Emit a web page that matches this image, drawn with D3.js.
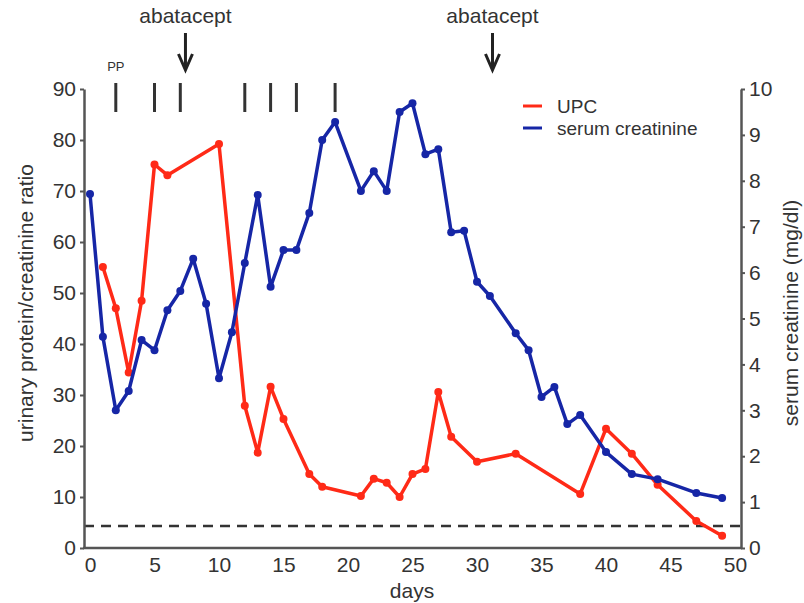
<!DOCTYPE html>
<html>
<head>
<meta charset="utf-8">
<script src="https://cdn.jsdelivr.net/npm/d3@7"></script>
<style>
  body { margin: 0; background: #fff; }
  text { font-family: "Liberation Sans", Arial, sans-serif; fill: #333; }
</style>
</head>
<body>
<div id="chart"></div>
<script>
// UPC (left axis)
var upcDays = [1, 2, 3, 4, 5, 6, 10, 12, 13, 14, 15, 17, 18, 21, 22, 23, 24, 25, 26, 27, 28, 30, 33, 38, 40, 42, 44, 47, 49];
var upcValues = [55.1, 47.0, 34.4, 48.5, 75.2, 73.1, 79.2, 27.9, 18.7, 31.6, 25.3, 14.5, 12.0, 10.2, 13.6, 12.8, 10.0, 14.5, 15.5, 30.6, 21.8, 16.9, 18.5, 10.6, 23.4, 18.5, 12.4, 5.3, 2.4];

// serum creatinine (right axis, mg/dl)
var crDays = [0, 1, 2, 3, 4, 5, 6, 7, 8, 9, 10, 11, 12, 13, 14, 15, 16, 17, 18, 19, 21, 22, 23, 24, 25, 26, 27, 28, 29, 30, 31, 33, 34, 35, 36, 37, 38, 40, 42, 44, 47, 49];
var crValues = [7.71, 4.6, 3.0, 3.42, 4.53, 4.31, 5.18, 5.6, 6.3, 5.32, 3.7, 4.7, 6.21, 7.69, 5.69, 6.49, 6.49, 7.3, 8.89, 9.28, 7.78, 8.21, 7.78, 9.5, 9.69, 8.58, 8.69, 6.88, 6.91, 5.8, 5.49, 4.68, 4.31, 3.29, 3.51, 2.7, 2.9, 2.09, 1.61, 1.5, 1.2, 1.09];

var ppDays = [2, 5, 7, 12, 14, 16, 19];
var abataceptDays = [7.4, 31.2];
var thresholdUPC = 4.3;

var xTicks = [0, 5, 10, 15, 20, 25, 30, 35, 40, 45, 50];
var leftTicks = [0, 10, 20, 30, 40, 50, 60, 70, 80, 90];
var rightTicks = [0, 1, 2, 3, 4, 5, 6, 7, 8, 9, 10];

var width = 804, height = 603;
var red = "#ff2a17", blue = "#1626a6";

var svg = d3.select("#chart").append("svg")
    .attr("width", width)
    .attr("height", height);

var x = d3.scaleLinear().domain([0, 50]).range([90, 735]);
var yL = d3.scaleLinear().domain([0, 90]).range([548, 89]);
var yR = d3.scaleLinear().domain([0, 10]).range([548, 89]);

// dashed threshold line
svg.append("line")
    .attr("x1", 84).attr("x2", 741)
    .attr("y1", yL(thresholdUPC)).attr("y2", yL(thresholdUPC))
    .attr("stroke", "#333")
    .attr("stroke-width", 2.5)
    .attr("stroke-dasharray", "10,7");

// bottom axis
svg.append("line")
    .attr("x1", 83).attr("x2", 742)
    .attr("y1", 548).attr("y2", 548)
    .attr("stroke", "#555").attr("stroke-width", 2.5);
var xAxis = svg.append("g")
    .attr("transform", "translate(0,548)")
    .call(d3.axisBottom(x).tickValues(xTicks).tickSize(0).tickPadding(9));
xAxis.select(".domain").remove();
xAxis.selectAll("text").style("font-size", "21px").attr("fill", "#333");

// left axis
var lAxis = svg.append("g")
    .attr("transform", "translate(84,0)")
    .call(d3.axisLeft(yL).tickValues(leftTicks).tickSize(4).tickSizeOuter(0).tickPadding(4));
lAxis.select(".domain").attr("stroke", "#555").attr("stroke-width", 2.5);
lAxis.selectAll(".tick line").attr("stroke", "#555").attr("stroke-width", 2);
lAxis.selectAll("text").style("font-size", "21px").attr("fill", "#333");

// right axis
var rAxis = svg.append("g")
    .attr("transform", "translate(741,0)")
    .call(d3.axisRight(yR).tickValues(rightTicks).tickSize(4).tickSizeOuter(0).tickPadding(4));
rAxis.select(".domain").attr("stroke", "#555").attr("stroke-width", 2.5);
rAxis.selectAll(".tick line").attr("stroke", "#555").attr("stroke-width", 2);
rAxis.selectAll("text").style("font-size", "21px").attr("fill", "#333");

// axis titles
svg.append("text")
    .attr("transform", "translate(33,303) rotate(-90)")
    .attr("text-anchor", "middle")
    .style("font-size", "21px")
    .text("urinary protein/creatinine ratio");
svg.append("text")
    .attr("transform", "translate(798,313) rotate(-90)")
    .attr("text-anchor", "middle")
    .style("font-size", "21px")
    .text("serum creatinine (mg/dl)");
svg.append("text")
    .attr("x", 412).attr("y", 598)
    .attr("text-anchor", "middle")
    .style("font-size", "21px")
    .text("days");

// lines
var upc = upcDays.map(function (d, i) { return [d, upcValues[i]]; });
var cr = crDays.map(function (d, i) { return [d, crValues[i]]; });

var lineL = d3.line().x(function (d) { return x(d[0]); }).y(function (d) { return yL(d[1]); });
var lineR = d3.line().x(function (d) { return x(d[0]); }).y(function (d) { return yR(d[1]); });

svg.append("path").datum(upc)
    .attr("d", lineL)
    .attr("fill", "none").attr("stroke", red).attr("stroke-width", 3.5)
    .attr("stroke-linejoin", "round");
svg.selectAll(".upcdot").data(upc).enter().append("circle")
    .attr("class", "upcdot")
    .attr("cx", function (d) { return x(d[0]); })
    .attr("cy", function (d) { return yL(d[1]); })
    .attr("r", 4).attr("fill", red);

svg.append("path").datum(cr)
    .attr("d", lineR)
    .attr("fill", "none").attr("stroke", blue).attr("stroke-width", 3.5)
    .attr("stroke-linejoin", "round");
svg.selectAll(".crdot").data(cr).enter().append("circle")
    .attr("class", "crdot")
    .attr("cx", function (d) { return x(d[0]); })
    .attr("cy", function (d) { return yR(d[1]); })
    .attr("r", 4).attr("fill", blue);

// plasmapheresis marks
svg.selectAll(".pp").data(ppDays).enter().append("line")
    .attr("class", "pp")
    .attr("x1", function (d) { return x(d); }).attr("x2", function (d) { return x(d); })
    .attr("y1", 83).attr("y2", 112)
    .attr("stroke", "#333").attr("stroke-width", 3);
svg.append("text")
    .attr("x", x(ppDays[0])).attr("y", 71)
    .attr("text-anchor", "middle")
    .style("font-size", "13px")
    .text("PP");

// abatacept arrows
var ab = svg.selectAll(".ab").data(abataceptDays).enter().append("g")
    .attr("class", "ab")
    .attr("transform", function (d) { return "translate(" + x(d) + ",0)"; });
ab.append("text")
    .attr("y", 23).attr("text-anchor", "middle")
    .style("font-size", "21px")
    .text("abatacept");
ab.append("line")
    .attr("x1", 0).attr("x2", 0).attr("y1", 33).attr("y2", 69)
    .attr("stroke", "#222").attr("stroke-width", 3);
ab.append("path")
    .attr("d", "M-7,54 L0,70 L7,54")
    .attr("fill", "none").attr("stroke", "#222").attr("stroke-width", 3);

// legend
var legend = [["UPC", red], ["serum creatinine", blue]];
var lg = svg.selectAll(".lg").data(legend).enter().append("g")
    .attr("class", "lg")
    .attr("transform", function (d, i) { return "translate(523," + (106 + i * 22) + ")"; });
lg.append("line")
    .attr("x1", 0).attr("x2", 19)
    .attr("stroke", function (d) { return d[1]; }).attr("stroke-width", 3);
lg.append("text")
    .attr("x", 34).attr("dy", "0.36em")
    .style("font-size", "19px")
    .text(function (d) { return d[0]; });
</script>
</body>
</html>
